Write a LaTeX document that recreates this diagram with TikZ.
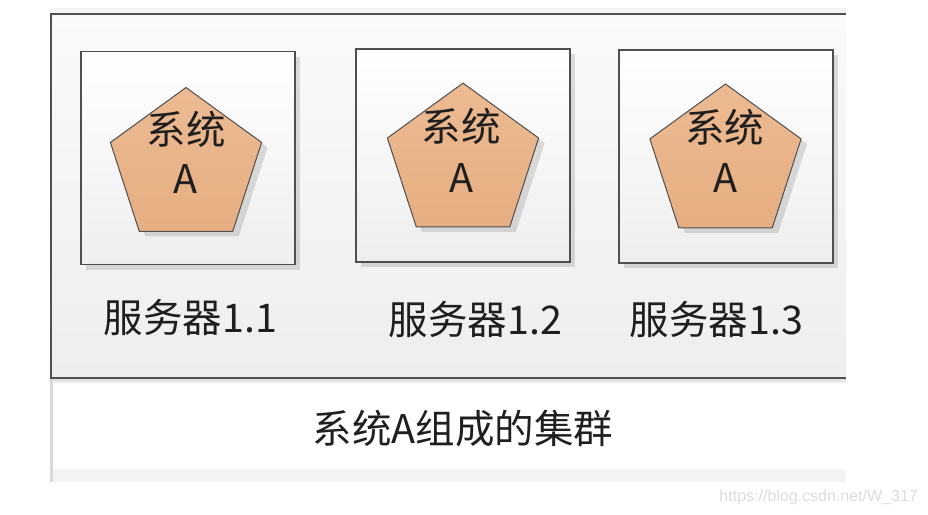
\documentclass[tikz,border=0pt]{standalone}
\usepackage{fontspec}
\setmainfont{Noto Sans CJK SC}
\newfontfamily\wmfont{Liberation Sans}
\usetikzlibrary{shapes.geometric,shadows}
\definecolor{linegray}{HTML}{4F4F4F}
\definecolor{bandgray}{HTML}{F3F3F3}
\definecolor{edgegray}{HTML}{D9D9D9}
\definecolor{peachtop}{HTML}{ECBA92}
\definecolor{peachbot}{HTML}{E6AE82}
\definecolor{boxbot}{HTML}{EEEEEE}
\definecolor{wmgray}{HTML}{DCDCDC}
\tikzset{
  srvbox/.style={draw=linegray, line width=1.8pt, top color=white, bottom color=boxbot,
    minimum width=214pt, minimum height=213pt, inner sep=0pt,
    drop shadow={shadow xshift=5pt, shadow yshift=-5pt, fill=black, opacity=0.12}},
  sysshape/.style={regular polygon, regular polygon sides=5, draw=linegray, line width=1pt,
    top color=peachtop, bottom color=peachbot, minimum size=159pt, inner sep=0pt,
    drop shadow={shadow xshift=6pt, shadow yshift=-5pt, fill=black, opacity=0.12}},
  bigtxt/.style={font=\fontsize{39.5pt}{47pt}\selectfont, text=black!88, inner sep=0pt, anchor=base},
}
\begin{document}
\begin{tikzpicture}[x=1pt,y=-1pt]
\useasboundingbox (0,0) rectangle (928,514);
% background of the captured area
\fill[bandgray] (50,8) rectangle (846,482);
\fill[white] (53,381) rectangle (846,469);
\fill[edgegray] (50,378) rectangle (53,482);
% cluster box
\shade[top color=white!98!black, bottom color=boxbot] (51,14) rectangle (846,378);
\fill[black, opacity=0.08] (53,379) rectangle (846,383);
\draw[linegray, line width=2pt] (846,14) -- (51,14) -- (51,378) -- (846,378);
% servers
\node[srvbox] (s1) at (188,158) {};
\node[srvbox] (s2) at (463,155.5) {};
\node[srvbox] (s3) at (726,156.5) {};
% systems
\node[sysshape] (p1) at (186,167) {};
\node[sysshape] (p2) at (463,162.6) {};
\node[sysshape] (p3) at (725.5,163.5) {};
\node[bigtxt] (t1a) at (186,144) {系统};
\node[bigtxt] (t1b) at (186,193) {A};
\node[bigtxt] (t2a) at (461,141) {系统};
\node[bigtxt] (t2b) at (462,192) {A};
\node[bigtxt] (t3a) at (724.5,142) {系统};
\node[bigtxt] (t3b) at (725,192) {A};
% labels
\node[bigtxt] (l1) at (190.5,332) {服务器1.1};
\node[bigtxt] (l2) at (475.5,334) {服务器1.2};
\node[bigtxt] (l3) at (716.5,334) {服务器1.3};
\node[bigtxt] (cap) at (463,443) {系统A组成的集群};
% watermark
\node[font=\wmfont\fontsize{16pt}{19pt}\selectfont, text=wmgray, inner sep=0pt, anchor=base east] (wm) at (918,501) {https://blog.csdn.net/W\_317};
\end{tikzpicture}
\end{document}
